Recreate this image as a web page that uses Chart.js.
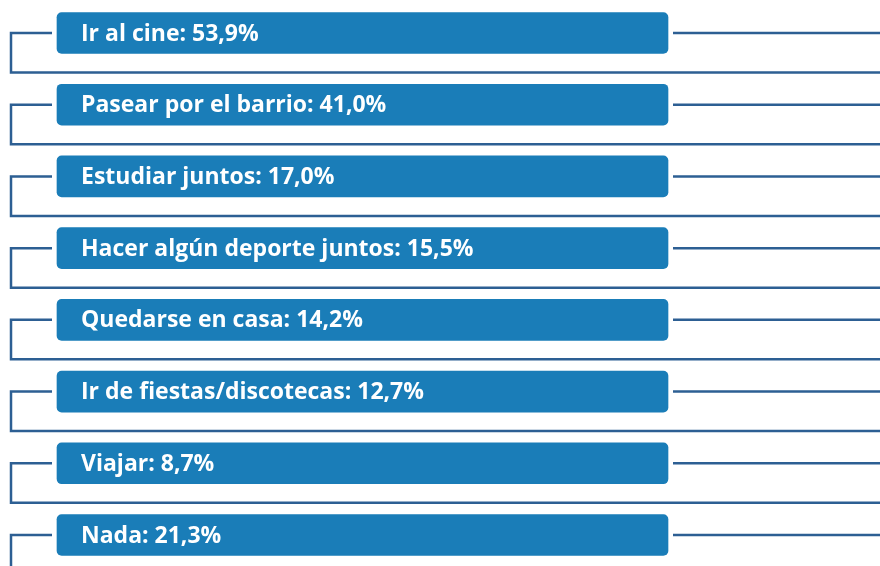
<!DOCTYPE html>
<html>
<head>
<meta charset="utf-8">
<script src="https://cdn.jsdelivr.net/npm/chart.js@4"></script>
<style>
  html, body { margin: 0; padding: 0; background: #ffffff; }
  #wrap { width: 880px; height: 566px; }
</style>
</head>
<body>
<div id="wrap"><canvas id="chartCanvas" width="880" height="566"></canvas></div>
<script>
// ======== DATOS ========
const categories = [
  "Ir al cine",
  "Pasear por el barrio",
  "Estudiar juntos",
  "Hacer algún deporte juntos",
  "Quedarse en casa",
  "Ir de fiestas/discotecas",
  "Viajar",
  "Nada"
];
const percentages = [53.9, 41.0, 17.0, 15.5, 14.2, 12.7, 8.7, 21.3];
// todas las cajas tienen el mismo largo (no representan el valor)
const bannerLength = [100, 100, 100, 100, 100, 100, 100, 100];

const boxColor = "#1a7db8";
const lineColor = "#2d5f93";

// Formato español: 53,9%
function fmt(v) {
  return v.toFixed(1).replace(".", ",") + "%";
}

// ======== PLUGIN: líneas de conexión ========
const connectorPlugin = {
  id: "connectors",
  beforeDatasetsDraw(chart) {
    const ctx = chart.ctx;
    const bars = chart.getDatasetMeta(0).data;
    const W = chart.width, H = chart.height;
    const xl = 11;
    ctx.save();
    ctx.strokeStyle = lineColor;
    ctx.lineWidth = 2.5;
    bars.forEach((bar, i) => {
      const y = bar.y;
      const left = Math.min(bar.x, bar.base);
      const right = Math.max(bar.x, bar.base);
      const last = i === bars.length - 1;
      const yb = last ? H : y + 39.5;
      ctx.beginPath();
      ctx.moveTo(left - 5, y);
      ctx.lineTo(xl, y);
      ctx.lineTo(xl, yb);
      if (!last) ctx.lineTo(W, yb);
      ctx.stroke();
      ctx.beginPath();
      ctx.moveTo(right + 5, y);
      ctx.lineTo(W, y);
      ctx.stroke();
    });
    ctx.restore();
  }
};

// ======== PLUGIN: texto dentro de las cajas ========
const labelPlugin = {
  id: "boxLabels",
  afterDatasetsDraw(chart) {
    const ctx = chart.ctx;
    const bars = chart.getDatasetMeta(0).data;
    ctx.save();
    ctx.fillStyle = "#ffffff";
    ctx.font = "bold 23px 'Open Sans'";
    ctx.textBaseline = "middle";
    ctx.textAlign = "left";
    bars.forEach((bar, i) => {
      const left = Math.min(bar.x, bar.base);
      ctx.fillText(categories[i] + ": " + fmt(percentages[i]), left + 24, bar.y + 1);
    });
    ctx.restore();
  }
};

// ======== GRÁFICO ========
const ctx = document.getElementById("chartCanvas").getContext("2d");
window.myChart = new Chart(ctx, {
  type: "bar",
  data: {
    labels: categories,
    datasets: [
      {
        data: bannerLength,
        backgroundColor: boxColor,
        borderRadius: 5,
        borderSkipped: false,
        barThickness: 41,
        clip: false
      }
    ]
  },
  options: {
    indexAxis: "y",
    responsive: false,
    animation: false,
    layout: { padding: { left: 57, right: 212, top: 33, bottom: 31 } },
    scales: {
      x: { display: false, min: 0, max: 100 },
      y: { display: false, offset: false }
    },
    plugins: {
      legend: { display: false },
      tooltip: { enabled: false }
    }
  },
  plugins: [connectorPlugin, labelPlugin]
});
</script>
</body>
</html>
